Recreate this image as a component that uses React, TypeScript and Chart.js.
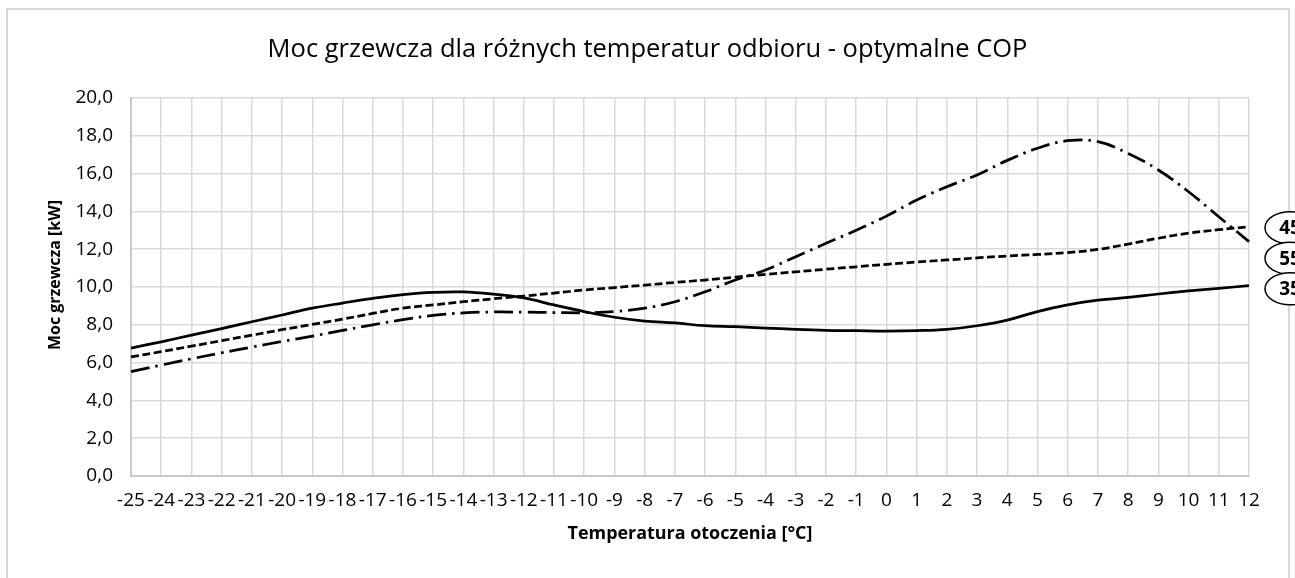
import React, { useEffect, useRef } from "react";
import { Chart, registerables } from "chart.js";

Chart.register(...registerables);

const temperatures = [
  "-25", "-24", "-23", "-22", "-21", "-20", "-19", "-18", "-17", "-16", "-15", "-14", "-13",
  "-12", "-11", "-10", "-9", "-8", "-7", "-6", "-5", "-4", "-3", "-2", "-1", "0",
  "1", "2", "3", "4", "5", "6", "7", "8", "9", "10", "11", "12",
];

const power35 = [
  6.77, 7.1, 7.45, 7.8, 8.16, 8.52, 8.88, 9.15, 9.4, 9.6, 9.72, 9.74, 9.62,
  9.42, 9.05, 8.7, 8.4, 8.2, 8.1, 7.95, 7.9, 7.83, 7.76, 7.71, 7.69, 7.67,
  7.69, 7.76, 7.95, 8.25, 8.7, 9.05, 9.3, 9.45, 9.63, 9.79, 9.93, 10.07,
];

const power45 = [
  6.3, 6.58, 6.87, 7.16, 7.45, 7.74, 8.02, 8.3, 8.6, 8.88, 9.05, 9.22, 9.38,
  9.52, 9.68, 9.84, 9.97, 10.1, 10.24, 10.37, 10.52, 10.67, 10.8, 10.94, 11.07, 11.2,
  11.32, 11.43, 11.54, 11.64, 11.72, 11.82, 11.99, 12.27, 12.58, 12.85, 13.03, 13.19,
];

const power55 = [
  5.52, 5.87, 6.2, 6.52, 6.82, 7.12, 7.4, 7.7, 8.0, 8.27, 8.5, 8.63, 8.68,
  8.67, 8.65, 8.64, 8.7, 8.88, 9.22, 9.75, 10.37, 10.9, 11.6, 12.31, 13.0, 13.75,
  14.6, 15.3, 15.93, 16.7, 17.34, 17.74, 17.69, 17.07, 16.19, 15.04, 13.72, 12.4,
];

const seriesLabels = ["35", "45", "55"];

const chartTitle = "Moc grzewcza dla różnych temperatur odbioru - optymalne COP";
const xAxisTitle = "Temperatura otoczenia [°C]";
const yAxisTitle = "Moc grzewcza [kW]";

const FONT = "'Open Sans', 'Noto Sans', sans-serif";

function fitFont(ctx: CanvasRenderingContext2D, text: string, weight: string, target: number) {
  const base = 20;
  ctx.font = `${weight} ${base}px ${FONT}`;
  const w = ctx.measureText(text).width;
  const size = (base * target) / w;
  ctx.font = `${weight} ${size}px ${FONT}`;
}

const decorPlugin = {
  id: "decor",
  beforeDraw(chart: any) {
    const ctx = chart.ctx as CanvasRenderingContext2D;
    ctx.save();
    ctx.fillStyle = "#ffffff";
    ctx.fillRect(0, 0, chart.width, chart.height);
    ctx.strokeStyle = "#d9d9d9";
    ctx.lineWidth = 2;
    ctx.strokeRect(7, 9, 1282, 700);
    ctx.restore();
  },
  afterDraw(chart: any) {
    const ctx = chart.ctx as CanvasRenderingContext2D;
    const area = chart.chartArea;
    ctx.save();
    ctx.fillStyle = "#000";
    ctx.textAlign = "center";
    ctx.textBaseline = "middle";

    // chart title
    fitFont(ctx, chartTitle, "normal", 760);
    ctx.fillText(chartTitle, chart.width / 2, 50);

    // x axis title
    fitFont(ctx, xAxisTitle, "bold", 245);
    ctx.fillText(xAxisTitle, (area.left + area.right) / 2, 534);

    // y axis title
    ctx.save();
    ctx.translate(55, 275);
    ctx.rotate(-Math.PI / 2);
    fitFont(ctx, yAxisTitle, "bold", 150);
    ctx.fillText(yAxisTitle, 0, 0);
    ctx.restore();

    // end labels in ellipses
    const items = chart.data.datasets.map((ds: any, i: number) => {
      const meta = chart.getDatasetMeta(i);
      const pt = meta.data[meta.data.length - 1];
      return { label: seriesLabels[i], y: pt.y };
    });
    items.sort((a: any, b: any) => a.y - b.y);
    let prev = -Infinity;
    const gap = 30.5;
    items.forEach((it: any) => {
      const y = Math.max(it.y + 1, prev + gap);
      prev = y;
      const cx = area.right + 41;
      ctx.beginPath();
      ctx.ellipse(cx, y, 25, 16, 0, 0, Math.PI * 2);
      ctx.fillStyle = "#fff";
      ctx.fill();
      ctx.lineWidth = 1.5;
      ctx.strokeStyle = "#000";
      ctx.stroke();
      ctx.fillStyle = "#000";
      ctx.font = `bold 19px ${FONT}`;
      ctx.fillText(it.label, cx, y + 1);
    });
    ctx.restore();
  },
};

export default function App() {
  const ref = useRef<HTMLCanvasElement | null>(null);

  useEffect(() => {
    if (!ref.current) return;
    const chart = new Chart(ref.current, {
      type: "line",
      data: {
        labels: temperatures,
        datasets: [
          {
            label: seriesLabels[0],
            data: power35,
            borderColor: "#000",
            borderWidth: 2.75,
            pointRadius: 0,
            tension: 0.4,
            fill: false,
          },
          {
            label: seriesLabels[1],
            data: power45,
            borderColor: "#000",
            borderWidth: 2.75,
            borderDash: [8, 3.5],
            pointRadius: 0,
            tension: 0.4,
            fill: false,
          },
          {
            label: seriesLabels[2],
            data: power55,
            borderColor: "#000",
            borderWidth: 2.75,
            borderDash: [19, 6, 2.5, 6],
            pointRadius: 0,
            tension: 0.4,
            fill: false,
          },
        ],
      },
      options: {
        animation: false,
        responsive: false,
        devicePixelRatio: 1,
        layout: { padding: { top: 98, right: 46, left: 0, bottom: 0 } },
        plugins: {
          legend: { display: false },
          title: { display: false },
          tooltip: { enabled: false },
        },
        scales: {
          x: {
            type: "category",
            offset: false,
            grid: { color: "#d9d9d9", lineWidth: 1.5, drawTicks: false },
            border: { color: "#c8c8c8", width: 2 },
            ticks: {
              autoSkip: false,
              maxRotation: 0,
              minRotation: 0,
              padding: 13,
              color: "#000",
              font: { family: FONT, size: 19 },
            },
            afterFit: (scale: any) => {
              scale.height = 102;
            },
          },
          y: {
            min: 0,
            max: 20,
            grid: { color: "#d9d9d9", lineWidth: 1.5, drawTicks: false },
            border: { color: "#c8c8c8", width: 2 },
            ticks: {
              stepSize: 2,
              padding: 18,
              color: "#000",
              font: { family: FONT, size: 19 },
              callback: (v: any) => Number(v).toFixed(1).replace(".", ","),
            },
            afterFit: (scale: any) => {
              scale.width = 131;
            },
          },
        },
      },
      plugins: [decorPlugin],
    });
    return () => chart.destroy();
  }, []);

  return (
    <div style={{ position: "fixed", left: 0, top: 0, width: 1295, height: 578, overflow: "hidden", background: "#fff" }}>
      <canvas ref={ref} width={1295} height={578} style={{ display: "block" }} />
    </div>
  );
}
